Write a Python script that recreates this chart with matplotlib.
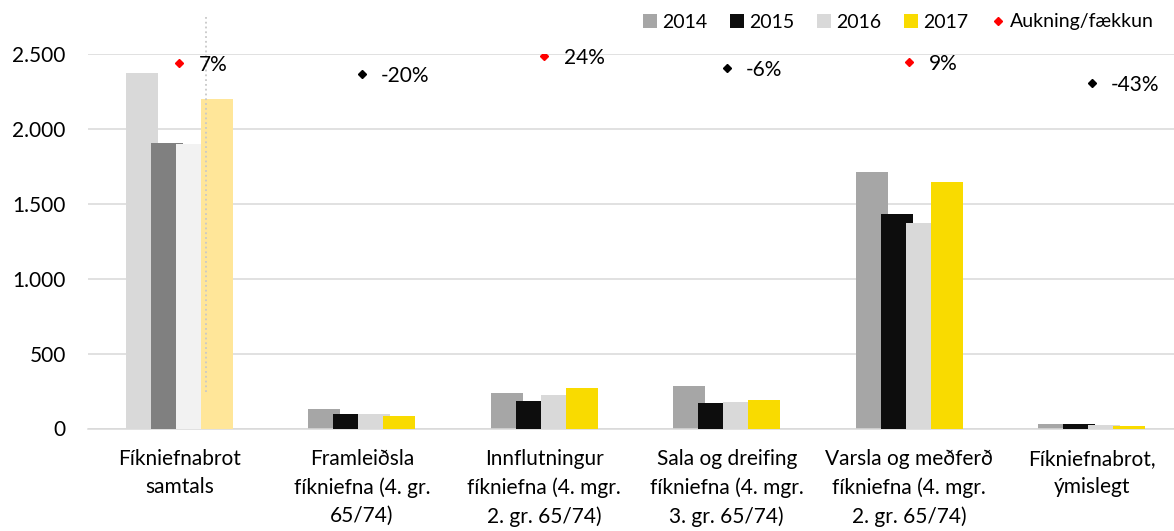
import matplotlib
matplotlib.use("Agg")
import matplotlib.pyplot as plt
from matplotlib.patches import Patch
from matplotlib.lines import Line2D
from matplotlib.ticker import FuncFormatter
import numpy as np

plt.rcParams['font.family'] = ['Lato', 'DejaVu Sans']

categories = [
    "Fíkniefnabrot\nsamtals",
    "Framleiðsla\nfíkniefna (4. gr.\n65/74)",
    "Innflutningur\nfíkniefna (4. mgr.\n2. gr. 65/74)",
    "Sala og dreifing\nfíkniefna (4. mgr.\n3. gr. 65/74)",
    "Varsla og meðferð\nfíkniefna (4. mgr.\n2. gr. 65/74)",
    "Fíkniefnabrot,\nýmislegt",
]
years = ["2014", "2015", "2016", "2017"]
v2014 = [2375, 128, 235, 283, 1714, 28]
v2015 = [1907, 95, 186, 167, 1430, 28]
v2016 = [1900, 97, 222, 179, 1370, 25]
v2017 = [2200, 81, 268, 192, 1648, 14]
change_pct = [7, -20, 24, -6, 9, -43]
change_labels = ["7%", "-20%", "24%", "-6%", "9%", "-43%"]
yticks = [0, 500, 1000, 1500, 2000, 2500]

colors = ["#a6a6a6", "#0d0d0d", "#d9d9d9", "#f9db00"]
faded = ["#d9d9d9", "#808080", "#f2f2f2", "#ffe699"]

FS = 15
fig = plt.figure(figsize=(11.74, 5.31), dpi=100)
ax = fig.add_axes([88 / 1174, 1 - 428.5 / 531, 1086 / 1174, 374.5 / 531])

x = np.arange(len(categories))
step = 0.137
width = 0.175
series = [v2014, v2015, v2016, v2017]
for i, vals in enumerate(series):
    offs = (i - 1.5) * step
    cols = [faded[i] if j == 0 else colors[i] for j in range(len(categories))]
    ax.bar(x + offs, vals, width=width, color=cols, zorder=2 + i, linewidth=0)

ax.set_xlim(-0.5, -0.5 + 1086 / 182.5)
ax.set_ylim(0, 2500)
ax.set_yticks(yticks)
ax.yaxis.set_major_formatter(FuncFormatter(lambda v, p: f"{int(v):,}".replace(",", ".")))
ax.set_xticks(x)
ax.set_xticklabels(categories, fontsize=FS, linespacing=1.5)
ax.tick_params(axis='x', length=0, pad=15)
ax.tick_params(axis='y', length=0, pad=16, labelsize=FS)
ax.grid(axis='y', color='#d9d9d9', linewidth=1.1, zorder=0)
ax.set_axisbelow(True)
for s in ['top', 'right', 'left']:
    ax.spines[s].set_visible(False)
ax.spines['bottom'].set_color('#d9d9d9')
ax.spines['bottom'].set_linewidth(1.1)

# faint dotted guide line in the first group
ax.plot([0.148, 0.148], [244, 2754], color='#c8c8c8', linestyle=':', linewidth=1.3,
        clip_on=False, zorder=10)

ax2 = ax.twinx()
ax2.set_ylim(-911, 29)
ax2.axis('off')
for xi, p, lab in zip(x, change_pct, change_labels):
    c = '#ff0000' if p > 0 else '#000000'
    ax2.plot([xi], [p], marker='D', markersize=3.8, color=c, linestyle='none')
    ax2.annotate(lab, (xi, p), xytext=(14, -1.5), textcoords='offset points',
                 ha='left', va='center', fontsize=FS, color='#000000')

handles = [Patch(facecolor=c, edgecolor='none') for c in colors]
handles.append(Line2D([], [], marker='D', markersize=3.8, color='#ff0000', linestyle='none'))
labels = years + ["Aukning/fækkun"]
fig.legend(handles, labels, loc='center left', bbox_to_anchor=(643 / 1174, 1 - 22 / 531),
           ncol=5, frameon=False, fontsize=14, handlelength=0.7, handleheight=0.7,
           handletextpad=0.3, columnspacing=1.15, borderpad=0, borderaxespad=0)

fig.savefig("out.png", dpi=100)
